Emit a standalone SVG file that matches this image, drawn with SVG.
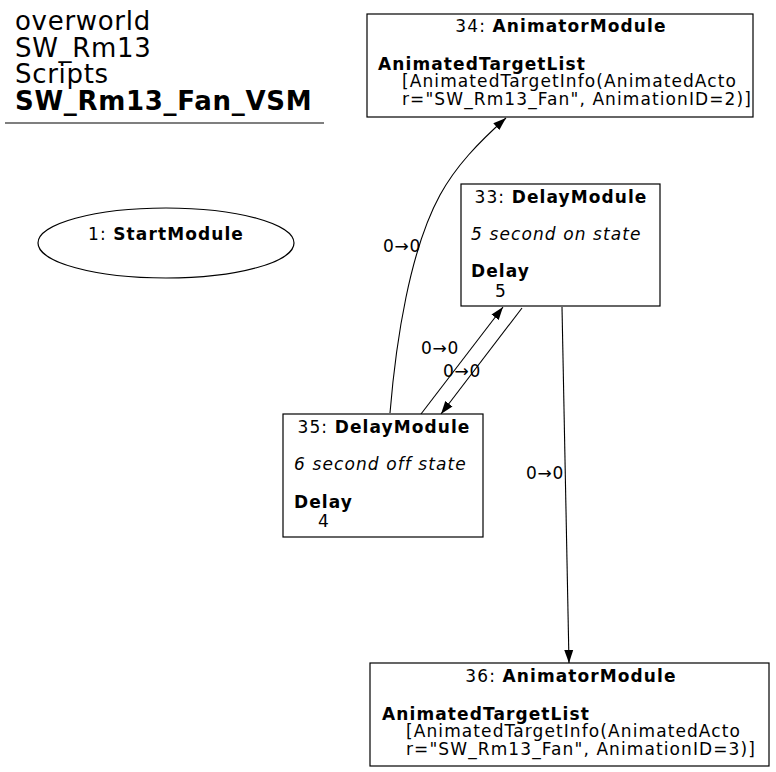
<svg xmlns="http://www.w3.org/2000/svg" width="776" height="772" viewBox="0 0 776 772">
<defs>
<style>
text{font-family:"DejaVu Sans",sans-serif;fill:#000}
.t{font-size:26px;letter-spacing:0.7px}
.n{font-size:17px;letter-spacing:1.1px}
.l{font-size:17px;letter-spacing:0.7px}
.b{font-weight:bold}
.i{font-style:italic}
.box{fill:#fff;stroke:#000;stroke-width:1.2}
.e{fill:none;stroke:#000;stroke-width:1.1}
</style>
<marker id="ah" viewBox="0 0 13 10" refX="13" refY="5" markerWidth="13" markerHeight="10" markerUnits="userSpaceOnUse" orient="auto">
<path d="M0,0.5 L13,5 L0,9.5 Z" fill="#000"/>
</marker>
</defs>
<rect width="776" height="772" fill="#fff"/>
<g id="title">
<text class="t" x="15" y="30">overworld</text>
<text class="t" x="15" y="57">SW_Rm13</text>
<text class="t" x="15" y="83">Scripts</text>
<text class="t b" x="15" y="110">SW_Rm13_Fan_VSM</text>
<line x1="5" y1="123" x2="324" y2="123" stroke="#000" stroke-width="1.2"/>
</g>
<g id="connectors">
<path class="e" d="M390,413 C396,340 410,250 440,195 C456,166 478,143 506,118" marker-end="url(#ah)"/>
<text class="l" x="402" y="252" text-anchor="middle">0→0</text>
<path class="e" d="M421,414 L503,307" marker-end="url(#ah)"/>
<text class="l" x="440" y="354" text-anchor="middle">0→0</text>
<path class="e" d="M522,308 L441,414" marker-end="url(#ah)"/>
<text class="l" x="462" y="377" text-anchor="middle">0→0</text>
<path class="e" d="M562,307 L569,663" marker-end="url(#ah)"/>
<text class="l" x="545" y="479" text-anchor="middle">0→0</text>
</g>
<g id="node1">
<ellipse cx="166" cy="243" rx="128" ry="35" class="box"/>
<text class="n" x="166" y="240" text-anchor="middle">1: <tspan class="b">StartModule</tspan></text>
</g>
<g id="node34">
<rect x="367" y="14" width="386" height="103" class="box"/>
<text class="n" x="561" y="32" text-anchor="middle">34: <tspan class="b">AnimatorModule</tspan></text>
<text class="n b" x="378" y="70">AnimatedTargetList</text>
<text class="n" x="402" y="87">[AnimatedTargetInfo(AnimatedActo</text>
<text class="n" x="402" y="105">r="SW_Rm13_Fan", AnimationID=2)]</text>
</g>
<g id="node33">
<rect x="461" y="184" width="199" height="122" class="box"/>
<text class="n" x="561" y="203" text-anchor="middle">33: <tspan class="b">DelayModule</tspan></text>
<text class="n i" x="471" y="240">5 second on state</text>
<text class="n b" x="471" y="277">Delay</text>
<text class="n" x="495" y="297">5</text>
</g>
<g id="node35">
<rect x="283" y="414" width="200" height="123" class="box"/>
<text class="n" x="384" y="433" text-anchor="middle">35: <tspan class="b">DelayModule</tspan></text>
<text class="n i" x="294" y="470">6 second off state</text>
<text class="n b" x="294" y="508">Delay</text>
<text class="n" x="318" y="527">4</text>
</g>
<g id="node36">
<rect x="370" y="663" width="399" height="103" class="box"/>
<text class="n" x="571" y="682" text-anchor="middle">36: <tspan class="b">AnimatorModule</tspan></text>
<text class="n b" x="382" y="720">AnimatedTargetList</text>
<text class="n" x="406" y="737">[AnimatedTargetInfo(AnimatedActo</text>
<text class="n" x="406" y="755">r="SW_Rm13_Fan", AnimationID=3)]</text>
</g>
</svg>
